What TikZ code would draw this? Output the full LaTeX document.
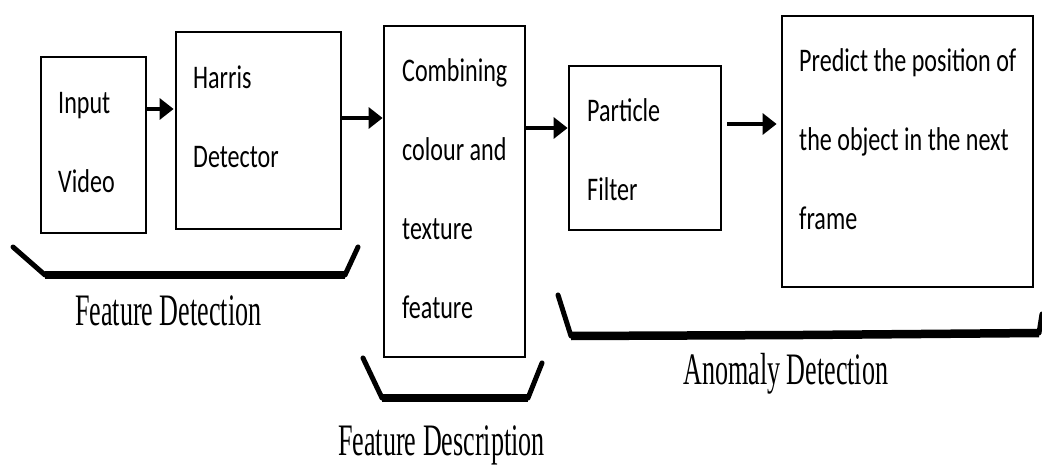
\documentclass[tikz,border=0pt]{standalone}
\usepackage{graphicx}
\usepackage{fontspec}
\usetikzlibrary{arrows.meta}
\newfontfamily\boxfont{Carlito}
\newfontfamily\labelfont{Liberation Serif}
% box text: narrow, double-spaced lines
\newcommand\boxtext[1]{\scalebox{0.73}[1]{\boxfont\fontsize{33}{39.5}\selectfont
  \renewcommand\arraystretch{2}\begin{tabular}[t]{@{}l@{}}#1\end{tabular}}}
% group captions under the braces
\newcommand\grouptext[1]{\scalebox{0.58}[1]{\labelfont\fontsize{45}{54}\selectfont #1}}
\begin{document}
\begin{tikzpicture}[x=1pt,y=-1pt,
  stage/.style={draw=black, line width=2.8pt, inner sep=0pt},
  words/.style={anchor=base west, inner sep=0pt},
  flow/.style={line width=3.4pt, -{Triangle[length=14pt,width=21pt]}},
  bracearm/.style={line width=5pt, line cap=round},
  bracebar/.style={line width=8.5pt}]
\useasboundingbox (0,0) rectangle (1042,465);

% stages
\node[stage, minimum width=105pt, minimum height=176pt] (input) at (93.5,145) {};
\node[stage, minimum width=165pt, minimum height=197pt] (harris) at (258.5,130.5) {};
\node[stage, minimum width=141pt, minimum height=331pt] (comb) at (454.5,191.5) {};
\node[stage, minimum width=152pt, minimum height=164pt] (part) at (645,148) {};
\node[stage, minimum width=251pt, minimum height=271pt] (pred) at (907.5,151.5) {};

% stage texts
\node[words] (tinput) at (58,114) {\boxtext{Input\\Video}};
\node[words] (tharris) at (193,89) {\boxtext{Harris\\Detector}};
\node[words] (tcomb) at (402,82) {\boxtext{Combining\\colour and\\texture\\feature}};
\node[words] (tpart) at (587,122) {\boxtext{Particle\\Filter}};
\node[words] (tpred) at (799,72) {\boxtext{Predict the position of\\the object in the next\\frame}};

% flow arrows
\draw[flow] (input.east |- 0,109) -- ([xshift=-1pt]harris.west |- 0,109);
\draw[flow] (harris.east |- 0,118) -- (comb.west |- 0,118);
\draw[flow] (comb.east |- 0,128) -- (part.west |- 0,128);
\draw[flow] ([xshift=5pt]part.east |- 0,124) -- ([xshift=-4pt]pred.west |- 0,124);

% group braces
\coordinate (b1a) at (13,247); \coordinate (b1b) at (45,275);
\coordinate (b1c) at (345,275); \coordinate (b1d) at (358,247);
\draw[bracearm] (b1a) -- (b1b);
\draw[bracearm] (b1c) -- (b1d);
\draw[bracebar] (b1b) -- (b1c);

\coordinate (b2a) at (363,358); \coordinate (b2b) at (382,398);
\coordinate (b2c) at (528,398); \coordinate (b2d) at (542,363);
\draw[bracearm] (b2a) -- (b2b);
\draw[bracearm] (b2c) -- (b2d);
\draw[bracebar] (b2b) -- (b2c);

\coordinate (b3a) at (558,295); \coordinate (b3b) at (571,336);
\coordinate (b3m) at (803,335); \coordinate (b3c) at (1039,333);
\coordinate (b3d) at (1042,314);
\draw[bracearm] (b3a) -- (b3b);
\draw[bracearm] (b3c) -- (b3d);
\draw[bracebar] (b3b) -- (b3m) -- (b3c);

% group captions
\node[words] (gdet) at (75,325) {\grouptext{Feature Detection}};
\node[words] (gdesc) at (338,455) {\grouptext{Feature Description}};
\node[words] (ganom) at (683,384) {\grouptext{Anomaly Detection}};
\end{tikzpicture}
\end{document}
